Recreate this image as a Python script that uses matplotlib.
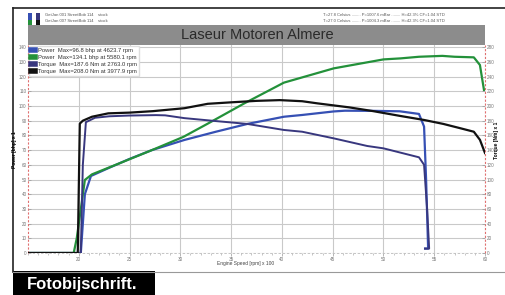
import numpy as np
import matplotlib.pyplot as plt
from matplotlib.patches import Rectangle
from matplotlib.lines import Line2D

plt.rcParams['font.family'] = ['Liberation Sans', 'DejaVu Sans']

# engine speed in rpm x 100
rpm_pow_a = [15, 20.2, 20.4, 20.6, 21.2, 23, 25, 27.2, 30.4, 33.5, 36.6, 40.2, 42, 45.1,
             46.2, 49, 51.6, 53.5, 54.0, 54.2, 54.4, 54.1]
pow_a = [0, 0, 20, 40, 52.4, 58, 64, 70, 76.9, 82.5, 87.8, 92.7, 93.9, 96.3,
         96.8, 96.7, 96.4, 94.6, 86, 50, 3, 3]

rpm_pow_b = [15, 19.5, 19.8, 20.6, 21.3, 24, 27.2, 30.3, 32.7, 36.3, 40.2, 45.1, 50, 51.7,
             53.5, 55.8, 57, 58.9, 59.5, 59.9]
pow_b = [0, 0, 10, 49.7, 53.5, 61, 70, 79, 88, 101.8, 115.9, 125.6, 131.7, 132.4,
         133.5, 134.1, 133.5, 133.1, 127.9, 110.9]

rpm_trq_a = [15, 20.2, 20.4, 20.7, 21.6, 23, 24.9, 27.6, 28.5, 30.4, 33.5, 36.6, 40.2, 42,
             45.1, 48.4, 50, 53.5, 54.0, 54.3, 54.5, 54.1]
trq_a = [0, 0, 120, 178, 184, 186, 187, 187.6, 187.3, 183.5, 179.5, 175.6, 167.4, 165,
         156, 145.6, 142.4, 130.2, 120, 60, 6, 6]

rpm_trq_b = [15, 19.9, 20.1, 20.4, 21.3, 22.9, 25, 27.3, 30.4, 32.7, 35, 37.5, 39.8, 42,
             43.5, 46.6, 49, 51.6, 54, 55.9, 57.5, 58.9, 59.5, 60]
trq_b = [0, 0, 176, 180, 185.4, 190, 191, 193, 197, 203, 205, 207, 208, 206.5,
         203.6, 198.2, 193, 186.6, 181, 175.6, 170, 165, 154, 136]

legend_labels = ['Power  Max=96.8 bhp at 4623.7 rpm',
                 'Power  Max=134.1 bhp at 5580.1 rpm',
                 'Torque  Max=187.6 Nm at 2763.0 rpm',
                 'Torque  Max=208.0 Nm at 3977.9 rpm']
run_labels = ['GetJan 001 StreetBob 114    stock', 'GetJan 007 StreetBob 114    stock']
cond_labels = ['T=27.8 Celsius ........ P=1007.6 mBar ........ H=42.3% CF=1.04 STD',
               'T=27.0 Celsius ........ P=1004.3 mBar ........ H=42.3% CF=1.04 STD']

c_blue = '#3650b4'
c_green = '#23913a'
c_navy = '#38377e'
c_black = '#111111'

W, H = 506, 295
fig = plt.figure(figsize=(W / 100, H / 100), dpi=100)

def fx(px):
    return px / W

def fy(py):
    return 1 - py / H

ax = fig.add_axes([fx(28), fy(253), fx(485) - fx(28), fy(45) - fy(253)])
ax2 = ax.twinx()

ax.set_xlim(15, 60)
ax.set_ylim(0, 141.5)
ax2.set_ylim(0, 283)

ax.set_xticks(np.arange(20, 61, 5))
ax.set_xticks(np.arange(15, 61, 1), minor=True)
ax.set_yticks(np.arange(0, 141, 10))
ax2.set_yticks(np.arange(0, 281, 20))
ax.grid(True, color='#c9c9c9', lw=0.8)
ax.set_axisbelow(True)

for a in (ax, ax2):
    a.tick_params(labelsize=3.3, labelcolor='#777777', color='#999999', length=2, width=0.5, pad=1)
    a.tick_params(which='minor', length=1.2, width=0.4, color='#999999')
    for s in a.spines.values():
        s.set_visible(False)
ax.tick_params(axis='y', direction='in')
ax2.tick_params(axis='y', direction='in')

# red dashed vertical axes, light bottom axis
for xv in (15, 60):
    ax.axvline(xv, color='#e07070', lw=0.8, ls=(0, (2, 1.5)), zorder=3, clip_on=False)
ax.axhline(0, color='#bbbbbb', lw=0.6, ls=(0, (3, 2)), zorder=1, clip_on=False)

ax.plot(rpm_pow_a, pow_a, color=c_blue, lw=1.6)
ax.plot(rpm_pow_b, pow_b, color=c_green, lw=1.6)
ax2.plot(rpm_trq_a, trq_a, color=c_navy, lw=1.4)
ax2.plot(rpm_trq_b, trq_b, color=c_black, lw=1.6)

handles = [Line2D([], [], color=c, lw=4) for c in (c_blue, c_green, c_navy, c_black)]
leg = ax2.legend(handles, legend_labels, loc='upper left', bbox_to_anchor=(0.003, 0.995),
                 fontsize=4.2, frameon=True, fancybox=False, edgecolor='#dddddd',
                 framealpha=1, handlelength=0.6, handletextpad=0.6, labelspacing=0.35,
                 borderpad=0.3, borderaxespad=0)
for t in leg.get_texts():
    t.set_color('#333333')

fig.text(fx(15), fy(150), 'Power [bhp] x 1', rotation=90, fontsize=3.5, fontweight='bold',
         ha='center', va='center')
fig.text(fx(497), fy(140), 'Torque [Nm] x 1', rotation=90, fontsize=3.5, fontweight='bold',
         ha='center', va='center')
fig.text(fx(217), fy(264), 'Engine Speed [rpm] x 100', fontsize=3.5, color='#444444',
         ha='left', va='center')

# frame and header
fig.add_artist(Line2D([fx(13), fx(506)], [fy(8), fy(8)], color='#222222', lw=1.2))
fig.add_artist(Line2D([fx(13), fx(13)], [fy(8), fy(272)], color='#222222', lw=1.2))
fig.add_artist(Line2D([fx(13), fx(506)], [fy(272), fy(272)], color='#999999', lw=0.8))

fig.add_artist(Rectangle((fx(28), fy(45)), fx(485) - fx(28), fy(25) - fy(45),
                         facecolor='#8c8c8c', edgecolor='none'))
fig.text(fx(257), fy(35), 'Laseur Motoren Almere', fontsize=10.5, color='#2a2a2a',
         ha='center', va='center')

for x0, top, bot in ((28, c_blue, c_green), (36, c_navy, c_black)):
    fig.add_artist(Rectangle((fx(x0), fy(20)), fx(4), fy(13) - fy(20), facecolor=top, edgecolor='none'))
    fig.add_artist(Rectangle((fx(x0), fy(25)), fx(4), fy(20) - fy(25), facecolor=bot, edgecolor='none'))

for i, (l, r) in enumerate(zip(run_labels, cond_labels)):
    fig.text(fx(45), fy(15.5 + 5.4 * i), l, fontsize=3.0, color='#555555', ha='left', va='center')
    fig.text(fx(323), fy(15.5 + 5.4 * i), r, fontsize=3.0, color='#555555', ha='left', va='center')

# caption box
fig.add_artist(Rectangle((fx(13), 0), fx(155) - fx(13), fy(271), facecolor='black', edgecolor='none'))
fig.text(fx(27), fy(284.5), 'Fotobijschrift.', fontsize=12, fontweight='bold', color='white',
         ha='left', va='center')

fig.savefig('out.png', dpi=100)
